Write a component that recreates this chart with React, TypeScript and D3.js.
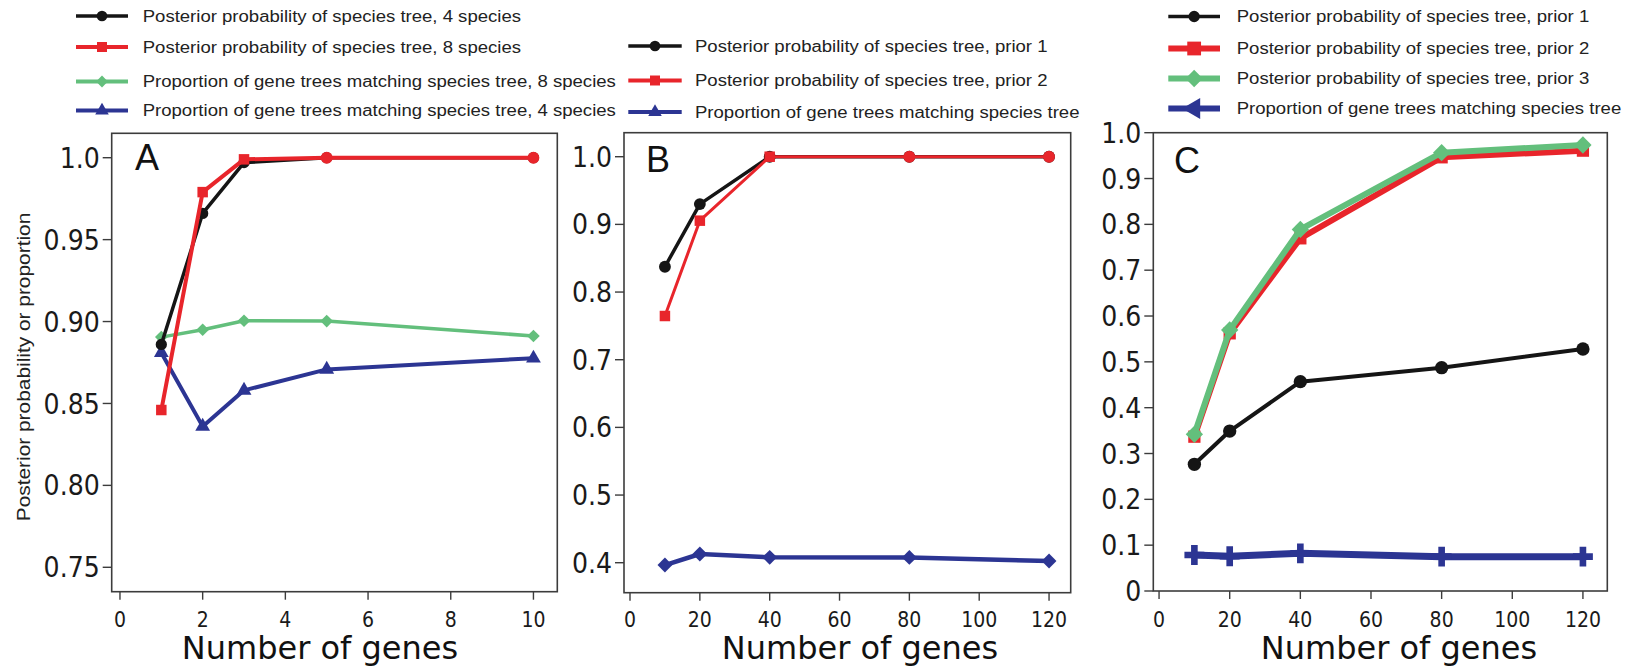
import React from 'react';
import * as d3 from 'd3';

// ---------- Panel A ----------
const genesA = [1, 2, 3, 5, 10];
const postA4 = [0.886, 0.966, 0.997, 1.0, 1.0];
const postA8 = [0.846, 0.979, 0.999, 1.0, 1.0];
const propA8 = [0.8905, 0.895, 0.9005, 0.9003, 0.8912];
const propA4 = [0.881, 0.836, 0.858, 0.8708, 0.8776];
const xTicksA = [0, 2, 4, 6, 8, 10];
const yTicksA = [0.75, 0.8, 0.85, 0.9, 0.95, 1.0];
const yLabelsA = ['0.75', '0.80', '0.85', '0.90', '0.95', '1.0'];
const legendA = [
  'Posterior probability of species tree, 4 species',
  'Posterior probability of species tree, 8 species',
  'Proportion of gene trees matching species tree, 8 species',
  'Proportion of gene trees matching species tree, 4 species',
];

// ---------- Panel B ----------
const genesB = [10, 20, 40, 80, 120];
const postB1 = [0.8374, 0.93, 1.0, 1.0, 1.0];
const postB2 = [0.7646, 0.9055, 1.0, 1.0, 1.0];
const propB = [0.3966, 0.4129, 0.408, 0.4078, 0.4025];
const xTicksB = [0, 20, 40, 60, 80, 100, 120];
const yTicksB = [0.4, 0.5, 0.6, 0.7, 0.8, 0.9, 1.0];
const yLabelsB = ['0.4', '0.5', '0.6', '0.7', '0.8', '0.9', '1.0'];
const legendB = [
  'Posterior probability of species tree, prior 1',
  'Posterior probability of species tree, prior 2',
  'Proportion of gene trees matching species tree',
];

// ---------- Panel C ----------
const genesC = [10, 20, 40, 80, 120];
const postC1 = [0.2764, 0.349, 0.4568, 0.4873, 0.528];
const postC2 = [0.3367, 0.5622, 0.7695, 0.9463, 0.9608];
const postC3 = [0.3419, 0.5695, 0.789, 0.9564, 0.9732];
const propC = [0.0786, 0.0757, 0.0822, 0.0749, 0.0749];
const xTicksC = [0, 20, 40, 60, 80, 100, 120];
const yTicksC = [0, 0.1, 0.2, 0.3, 0.4, 0.5, 0.6, 0.7, 0.8, 0.9, 1.0];
const yLabelsC = ['0', '0.1', '0.2', '0.3', '0.4', '0.5', '0.6', '0.7', '0.8', '0.9', '1.0'];
const legendC = [
  'Posterior probability of species tree, prior 1',
  'Posterior probability of species tree, prior 2',
  'Posterior probability of species tree, prior 3',
  'Proportion of gene trees matching species tree',
];

const xTitle = 'Number of genes';
const yTitle = 'Posterior probability or proportion';

const BLACK = '#151515';
const RED = '#e8252b';
const GREEN = '#63bf7c';
const BLUE = '#2c3593';
const FRAME = '#3c3c3c';

type Mark = 'circle' | 'square' | 'diamond' | 'triangle' | 'cross' | 'triLeft';

function markPath(m: Mark, size: number): string {
  const t =
    m === 'circle' ? d3.symbolCircle :
    m === 'square' || m === 'diamond' ? d3.symbolSquare :
    m === 'cross' ? d3.symbolCross : d3.symbolTriangle;
  return d3.symbol(t, size)() as string;
}
const markRot = (m: Mark) => (m === 'diamond' ? 45 : m === 'triLeft' ? -90 : 0);

interface Series {
  xs: number[];
  ys: number[];
  color: string;
  lw: number;
  marks: Mark[];
  msize: number;
}

interface LegendItem {
  color: string;
  lw: number;
  mark: Mark;
  msize: number;
  label: string;
}

interface PanelSpec {
  letter: string;
  frame: [number, number, number, number]; // x0, y0, x1, y1
  xDomain: [number, number];
  yDomain: [number, number];
  xTicks: number[];
  yTicks: number[];
  yLabels: string[];
  series: Series[];
  titleX: number;
  letterPos: [number, number];
  legend: { x0: number; x1: number; tx: number; rows: number[]; items: LegendItem[] };
}

const rep = (m: Mark, n: number) => Array.from({ length: n }, () => m);

const panels: PanelSpec[] = [
  {
    letter: 'A',
    frame: [111.7, 133.3, 557.3, 591.7],
    xDomain: [-0.2, 10.577],
    yDomain: [0.7351, 1.0149],
    xTicks: xTicksA,
    yTicks: yTicksA,
    yLabels: yLabelsA,
    titleX: 320,
    letterPos: [135, 169.5],
    series: [
      { xs: genesA, ys: propA8, color: GREEN, lw: 3.5, marks: rep('diamond', 5), msize: 80 },
      { xs: genesA, ys: propA4, color: BLUE, lw: 4, marks: rep('triangle', 5), msize: 95 },
      { xs: genesA, ys: postA4, color: BLACK, lw: 3.5, marks: rep('circle', 5), msize: 100 },
      { xs: genesA, ys: postA8, color: RED, lw: 4, marks: ['square', 'square', 'square', 'circle', 'circle'], msize: 110 },
    ],
    legend: {
      x0: 76, x1: 128, tx: 142.7, rows: [16, 47, 81.5, 110.5],
      items: [
        { color: BLACK, lw: 3.5, mark: 'circle', msize: 90, label: legendA[0] },
        { color: RED, lw: 4, mark: 'square', msize: 100, label: legendA[1] },
        { color: GREEN, lw: 4, mark: 'diamond', msize: 70, label: legendA[2] },
        { color: BLUE, lw: 4, mark: 'triangle', msize: 80, label: legendA[3] },
      ],
    },
  },
  {
    letter: 'B',
    frame: [624, 132.7, 1070.7, 592.7],
    xDomain: [-1.72, 126.2],
    yDomain: [0.3557, 1.0355],
    xTicks: xTicksB,
    yTicks: yTicksB,
    yLabels: yLabelsB,
    titleX: 860,
    letterPos: [646, 171.5],
    series: [
      { xs: genesB, ys: postB1, color: BLACK, lw: 3.5, marks: rep('circle', 5), msize: 110 },
      { xs: genesB, ys: postB2, color: RED, lw: 3, marks: ['square', 'square', 'square', 'circle', 'circle'], msize: 110 },
      { xs: genesB, ys: propB, color: BLUE, lw: 4.5, marks: rep('diamond', 5), msize: 110 },
    ],
    legend: {
      x0: 628.3, x1: 681.7, tx: 695, rows: [46, 80.5, 112],
      items: [
        { color: BLACK, lw: 3.5, mark: 'circle', msize: 90, label: legendB[0] },
        { color: RED, lw: 4, mark: 'square', msize: 100, label: legendB[1] },
        { color: BLUE, lw: 4, mark: 'triangle', msize: 80, label: legendB[2] },
      ],
    },
  },
  {
    letter: 'C',
    frame: [1153.3, 132.7, 1607.3, 591],
    xDomain: [-1.63, 126.9],
    yDomain: [0, 1],
    xTicks: xTicksC,
    yTicks: yTicksC,
    yLabels: yLabelsC,
    titleX: 1399,
    letterPos: [1174, 172.5],
    series: [
      { xs: genesC, ys: postC1, color: BLACK, lw: 4, marks: rep('circle', 5), msize: 140 },
      { xs: genesC, ys: postC2, color: RED, lw: 6, marks: rep('square', 5), msize: 150 },
      { xs: genesC, ys: postC3, color: GREEN, lw: 6, marks: rep('diamond', 5), msize: 150 },
      { xs: genesC, ys: propC, color: BLUE, lw: 7, marks: rep('cross', 5), msize: 220 },
    ],
    legend: {
      x0: 1168.3, x1: 1220, tx: 1236.7, rows: [16.5, 48.5, 78.5, 108.5],
      items: [
        { color: BLACK, lw: 3.5, mark: 'circle', msize: 100, label: legendC[0] },
        { color: RED, lw: 6, mark: 'square', msize: 190, label: legendC[1] },
        { color: GREEN, lw: 6, mark: 'diamond', msize: 150, label: legendC[2] },
        { color: BLUE, lw: 6, mark: 'triLeft', msize: 190, label: legendC[3] },
      ],
    },
  },
];

const TICK_FONT = "'DejaVu Sans Condensed', 'DejaVu Sans', sans-serif";
const SANS = "'Liberation Sans', Arial, sans-serif";
const TITLE_FONT = "'DejaVu Sans', Verdana, sans-serif";

function Panel({ p }: { p: PanelSpec }) {
  const [x0, y0, x1, y1] = p.frame;
  const xs = d3.scaleLinear().domain(p.xDomain).range([x0, x1]);
  const ys = d3.scaleLinear().domain(p.yDomain).range([y1, y0]);
  const line = d3
    .line<[number, number]>()
    .x((d) => xs(d[0]))
    .y((d) => ys(d[1]));

  return (
    <g>
      {/* legend */}
      {p.legend.items.map((it, i) => {
        const cy = p.legend.rows[i];
        const cx = (p.legend.x0 + p.legend.x1) / 2;
        return (
          <g key={'lg' + i}>
            <line x1={p.legend.x0} x2={p.legend.x1} y1={cy} y2={cy} stroke={it.color} strokeWidth={it.lw} />
            <path
              d={markPath(it.mark, it.msize)}
              transform={`translate(${cx},${cy}) rotate(${markRot(it.mark)})`}
              fill={it.color}
            />
            <text
              transform={`translate(${p.legend.tx},${cy}) scale(1.16,1)`}
              dy="0.35em"
              fontFamily={SANS}
              fontSize={16}
              fill="#222"
            >
              {it.label}
            </text>
          </g>
        );
      })}

      {/* frame */}
      <rect x={x0} y={y0} width={x1 - x0} height={y1 - y0} fill="none" stroke={FRAME} strokeWidth={1.6} />

      {/* y ticks */}
      {p.yTicks.map((t, i) => (
        <g key={'yt' + i}>
          <line x1={x0 - 9} x2={x0} y1={ys(t)} y2={ys(t)} stroke={FRAME} strokeWidth={1.4} />
          <text
            x={x0 - 12}
            y={ys(t)}
            dy="0.36em"
            textAnchor="end"
            fontFamily={TICK_FONT}
            fontSize={28}
            fill="#1a1a1a"
          >
            {p.yLabels[i]}
          </text>
        </g>
      ))}

      {/* x ticks */}
      {p.xTicks.map((t, i) => (
        <g key={'xt' + i}>
          <line x1={xs(t)} x2={xs(t)} y1={y1} y2={y1 + 8} stroke={FRAME} strokeWidth={1.4} />
          <text x={xs(t)} y={627} textAnchor="middle" fontFamily={TICK_FONT} fontSize={21} fill="#1a1a1a">
            {String(t)}
          </text>
        </g>
      ))}

      {/* series */}
      {p.series.map((s, si) => {
        const pts = s.xs.map((x, i) => [x, s.ys[i]] as [number, number]);
        return (
          <g key={'s' + si}>
            <path
              d={line(pts) as string}
              fill="none"
              stroke={s.color}
              strokeWidth={s.lw}
              strokeLinejoin="round"
              strokeLinecap="round"
            />
            {pts.map((d, i) => (
              <path
                key={i}
                d={markPath(s.marks[i], s.msize)}
                transform={`translate(${xs(d[0])},${ys(d[1])}) rotate(${markRot(s.marks[i])})`}
                fill={s.color}
              />
            ))}
          </g>
        );
      })}

      {/* panel letter */}
      <text x={p.letterPos[0]} y={p.letterPos[1]} fontFamily={SANS} fontSize={36} fill="#111">
        {p.letter}
      </text>

      {/* x title */}
      <text x={p.titleX} y={659} textAnchor="middle" fontFamily={TITLE_FONT} fontSize={32} fill="#111">
        {xTitle}
      </text>
    </g>
  );
}

export default function App() {
  return (
    <svg
      width={1629}
      height={669}
      viewBox="0 0 1629 669"
      style={{ position: 'absolute', left: 0, top: 0, background: '#fff' }}
    >
      <rect x={0} y={0} width={1629} height={669} fill="#fff" />
      {panels.map((p) => (
        <Panel key={p.letter} p={p} />
      ))}
      <text
        transform="translate(30,367) rotate(-90) scale(1.16,1)"
        textAnchor="middle"
        fontFamily={SANS}
        fontSize={18}
        fill="#222"
      >
        {yTitle}
      </text>
    </svg>
  );
}
